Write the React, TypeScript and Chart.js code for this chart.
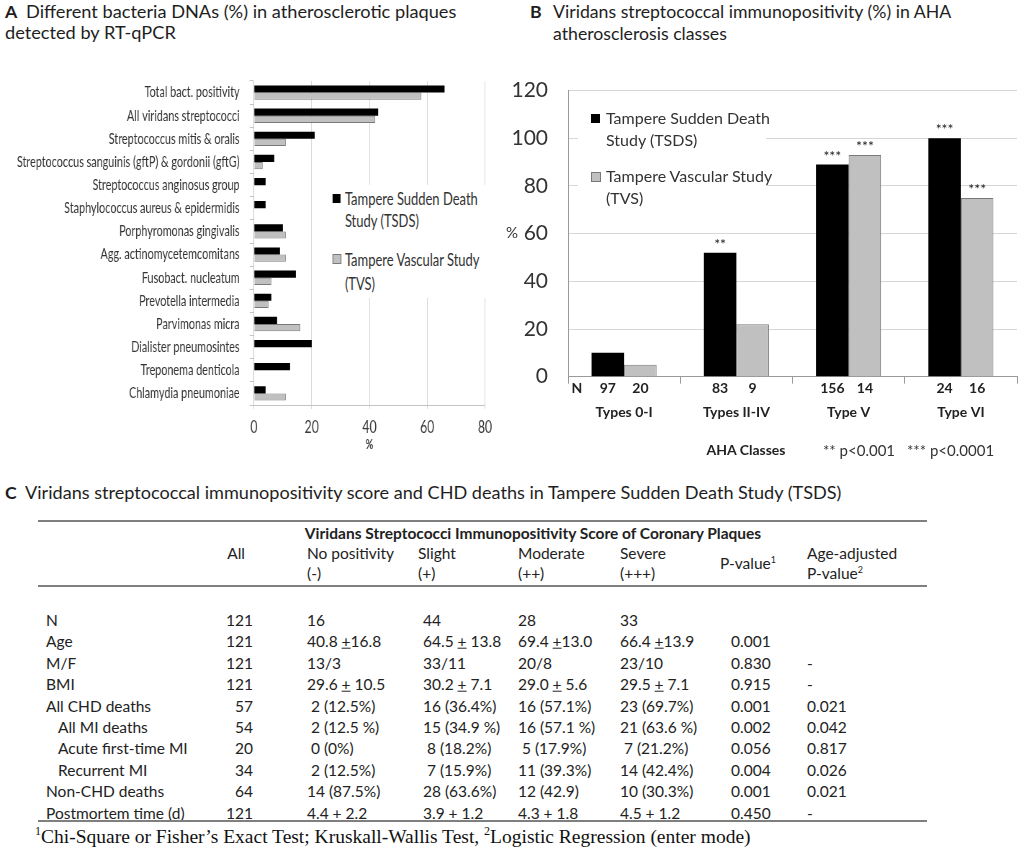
import React, { useEffect, useRef } from 'react';
import { Chart, registerables } from 'chart.js';
Chart.register(...registerables);

const FONT = 'Lato, "Open Sans", sans-serif';

// ---------- Panel A data ----------
const bacteriaLabels = [
  'Total bact. positivity',
  'All viridans streptococci',
  'Streptococcus mitis & oralis',
  'Streptococcus sanguinis (gftP) & gordonii (gftG)',
  'Streptococcus anginosus group',
  'Staphylococcus aureus & epidermidis',
  'Porphyromonas gingivalis',
  'Agg. actinomycetemcomitans',
  'Fusobact. nucleatum',
  'Prevotella intermedia',
  'Parvimonas micra',
  'Dialister pneumosintes',
  'Treponema denticola',
  'Chlamydia pneumoniae',
];
const tsdsDna = [66, 43, 21, 7, 4, 4, 10, 9, 14.5, 6, 8, 20, 12.5, 4];
const tvsDna = [58, 42, 11, 3, 0, 0, 11, 11, 6, 5, 16, 0, 0, 11];
const dnaMax = 80;
const dnaStep = 20;

// ---------- Panel B data ----------
const ahaClasses = ['Types 0-I', 'Types II-IV', 'Type V', 'Type VI'];
const tsdsImmuno = [10, 52, 89, 100];
const tvsImmuno = [5, 22, 93, 75];
const tsdsN = [97, 83, 156, 24];
const tvsN = [20, 9, 14, 16];
const tsdsStars = ['', '**', '***', '***'];
const tvsStars = ['', '', '***', '***'];
const immunoMax = 120;
const immunoStep = 20;

const seriesNames = ['Tampere Sudden Death Study (TSDS)', 'Tampere Vascular Study (TVS)'];

// ---------- Panel C data ----------
const rowLabels = ['N', 'Age', 'M/F', 'BMI', 'All CHD deaths', 'All MI deaths', 'Acute first-time MI', 'Recurrent MI', 'Non-CHD deaths', 'Postmortem time (d)'];
const indentedRows = ['All MI deaths', 'Acute first-time MI', 'Recurrent MI'];
const colAll = ['121', '121', '121', '121', '57', '54', '20', '34', '64', '121'];
const colNone = ['16', '40.8 ±16.8', '13/3', '29.6 ± 10.5', '2 (12.5%)', '2 (12.5 %)', '0 (0%)', '2 (12.5%)', '14 (87.5%)', '4.4 + 2.2'];
const colSlight = ['44', '64.5 ± 13.8', '33/11', '30.2 ± 7.1', '16 (36.4%)', '15 (34.9 %)', '8 (18.2%)', '7 (15.9%)', '28 (63.6%)', '3.9 + 1.2'];
const colModerate = ['28', '69.4 ±13.0', '20/8', '29.0 ± 5.6', '16 (57.1%)', '16 (57.1 %)', '5 (17.9%)', '11 (39.3%)', '12 (42.9)', '4.3 + 1.8'];
const colSevere = ['33', '66.4 ±13.9', '23/10', '29.5 ± 7.1', '23 (69.7%)', '21 (63.6 %)', '7 (21.2%)', '14 (42.4%)', '10 (30.3%)', '4.5 + 1.2'];
const colP = ['', '0.001', '0.830', '0.915', '0.001', '0.002', '0.056', '0.004', '0.001', '0.450'];
const colAdj = ['', '', '-', '-', '0.021', '0.042', '0.817', '0.026', '0.021', '-'];

// ---------- helpers ----------
type TP = { x: number; y: number; align?: 'left' | 'center' | 'right'; style?: React.CSSProperties; children: React.ReactNode };
function T({ x, y, align = 'left', style, children }: TP) {
  const tx = align === 'left' ? '0' : align === 'center' ? '-50%' : '-100%';
  return (
    <div style={{ position: 'absolute', left: x, top: y, transform: `translate(${tx}, -50%)`, whiteSpace: 'nowrap', lineHeight: 1.2, ...style }}>
      {children}
    </div>
  );
}
function pm(s: string) {
  const parts = s.split('±');
  const out: React.ReactNode[] = [];
  parts.forEach((p, i) => {
    if (i > 0) out.push(<span key={'u' + i} style={{ textDecoration: 'underline' }}>+</span>);
    out.push(p);
  });
  return out;
}

// ---------- Panel A ----------
const SX = 0.72;
const A_W = 500 / SX;
const A_TOP = 58;
const A_H = 395;

function ChartA() {
  const ref = useRef<HTMLCanvasElement>(null);
  useEffect(() => {
    const chart = new Chart(ref.current!, {
      type: 'bar',
      data: {
        labels: bacteriaLabels,
        datasets: [
          { label: seriesNames[0], data: tsdsDna, backgroundColor: '#000', borderWidth: 0 },
          {
            label: seriesNames[1], data: tvsDna, backgroundColor: '#c0c0c0', borderColor: '#7a7a7a',
            borderWidth: (c: any) => (c.raw ? 1 : 0),
          },
        ],
      },
      options: {
        animation: false,
        responsive: true,
        maintainAspectRatio: false,
        indexAxis: 'y',
        layout: { padding: { left: 0, right: A_W - 485 / SX, top: 10, bottom: 0 } },
        plugins: { legend: { display: false }, tooltip: { enabled: false } },
        datasets: { bar: { categoryPercentage: 0.62, barPercentage: 1 } },
        scales: {
          y: {
            afterFit: (s: any) => { s.width = 254 / SX; },
            grid: { drawOnChartArea: false, tickLength: 6, color: '#c4c4c4', offset: true },
            border: { color: '#c4c4c4' },
            ticks: { font: { family: FONT, size: 15 }, color: '#333', padding: 14, autoSkip: false },
          },
          x: {
            min: 0, max: dnaMax,
            afterFit: (s: any) => { s.height = 48; },
            ticks: { stepSize: dnaStep, font: { family: FONT, size: 17 }, color: '#3a3a3a', padding: 8 },
            grid: { color: '#d6d6d6', tickLength: 4 },
            border: { color: '#c4c4c4' },
            title: { display: true, text: '%', font: { family: FONT, size: 13, weight: 'bold' }, color: '#3a3a3a', padding: 0 },
          },
        },
      } as any,
    });
    return () => chart.destroy();
  }, []);
  const o = A_TOP; // legend coordinates are page y minus wrapper top
  return (
    <div style={{ position: 'absolute', left: 0, top: A_TOP, width: A_W, height: A_H, transform: `scaleX(${SX})`, transformOrigin: '0 0' }}>
      <canvas ref={ref} />
      <div style={{ position: 'absolute', left: 458, top: 185 - o, width: 222, height: 113, background: '#fff' }} />
      <div style={{ position: 'absolute', left: 462, top: 194 - o, width: 11, height: 9, background: '#000' }} />
      <div style={{ position: 'absolute', left: 479, top: 187 - o, fontFamily: FONT, fontSize: 18, lineHeight: '22px', color: '#333', whiteSpace: 'nowrap' }}>
        Tampere Sudden Death<br />Study (TSDS)
      </div>
      <div style={{ position: 'absolute', left: 462, top: 254 - o, width: 10, height: 8, background: '#c0c0c0', border: '1px solid #7a7a7a' }} />
      <div style={{ position: 'absolute', left: 479, top: 247 - o, fontFamily: FONT, fontSize: 18, lineHeight: '24px', color: '#333', whiteSpace: 'nowrap' }}>
        Tampere Vascular Study<br />(TVS)
      </div>
    </div>
  );
}

// ---------- Panel B ----------
const B_LEFT = 500;
const B_TOP = 58;
const B_W = 524;
const B_H = 412;

function ChartB() {
  const ref = useRef<HTMLCanvasElement>(null);
  useEffect(() => {
    const annot = {
      id: 'annotB',
      afterDatasetsDraw(chart: any) {
        const ctx = chart.ctx;
        const xs = chart.scales.x;
        const ys = chart.scales.y;
        ctx.save();
        const nY = xs.top + 12;
        ctx.fillStyle = '#222';
        ctx.textAlign = 'center';
        ctx.textBaseline = 'middle';
        ctx.font = `bold 14px ${FONT}`;
        ctx.fillText('N', chart.chartArea.left + 9, nY);
        const groups: [number[], string[]][] = [[tsdsN, tsdsStars], [tvsN, tvsStars]];
        groups.forEach(([ns, stars], di) => {
          const meta = chart.getDatasetMeta(di);
          meta.data.forEach((el: any, i: number) => {
            ctx.font = `bold 14px ${FONT}`;
            ctx.textBaseline = 'middle';
            ctx.fillText(String(ns[i]), el.x, nY);
            if (stars[i]) {
              ctx.font = `14px ${FONT}`;
              ctx.textBaseline = 'alphabetic';
              ctx.fillText(stars[i], el.x, el.y - 4);
            }
          });
        });
        ctx.font = `15px ${FONT}`;
        ctx.textAlign = 'left';
        ctx.textBaseline = 'middle';
        ctx.fillStyle = '#333';
        ctx.fillText('%', 6, ys.getPixelForValue(60));
        ctx.restore();
      },
    };
    const chart = new Chart(ref.current!, {
      type: 'bar',
      data: {
        labels: ahaClasses,
        datasets: [
          { label: seriesNames[0], data: tsdsImmuno, backgroundColor: '#000', borderWidth: 0 },
          { label: seriesNames[1], data: tvsImmuno, backgroundColor: '#c0c0c0', borderColor: '#7a7a7a', borderWidth: 1 },
        ],
      },
      options: {
        animation: false,
        responsive: true,
        maintainAspectRatio: false,
        layout: { padding: { left: 0, right: 7, top: 10, bottom: 0 } },
        plugins: { legend: { display: false }, tooltip: { enabled: false } },
        datasets: { bar: { categoryPercentage: 0.58, barPercentage: 1 } },
        scales: {
          x: {
            afterFit: (s: any) => { s.height = B_TOP + B_H - 376.7; },
            grid: { drawOnChartArea: false, tickLength: 7, color: '#9a9a9a', offset: true },
            border: { color: '#9a9a9a' },
            ticks: { font: { family: FONT, size: 14, weight: 'bold' }, color: '#222', padding: 20 },
          },
          y: {
            min: 0, max: immunoMax,
            afterFit: (s: any) => { s.width = 568 - B_LEFT; },
            ticks: { stepSize: immunoStep, font: { family: FONT, size: 21 }, color: '#333', padding: 20 },
            grid: { color: '#d6d6d6', drawTicks: false, tickLength: 0 },
            border: { color: '#9a9a9a' },
          },
        },
      } as any,
      plugins: [annot],
    });
    return () => chart.destroy();
  }, []);
  return (
    <div style={{ position: 'absolute', left: B_LEFT, top: B_TOP, width: B_W, height: B_H }}>
      <canvas ref={ref} />
    </div>
  );
}

function LegendB() {
  const txt: React.CSSProperties = { position: 'absolute', left: 606, fontFamily: FONT, fontSize: 16, lineHeight: '22px', color: '#333', whiteSpace: 'nowrap' };
  return (
    <>
      <div style={{ position: 'absolute', left: 578, top: 100, width: 188, height: 112, background: '#fff' }} />
      <div style={{ position: 'absolute', left: 591, top: 114, width: 9, height: 9, background: '#000' }} />
      <div style={{ ...txt, top: 107 }}>Tampere Sudden Death<br />Study (TSDS)</div>
      <div style={{ position: 'absolute', left: 591, top: 172, width: 8, height: 8, background: '#c0c0c0', border: '1px solid #7a7a7a' }} />
      <div style={{ ...txt, top: 165 }}>Tampere Vascular Study<br />(TVS)</div>
    </>
  );
}

// ---------- Panel C ----------
const colX = { none: 307, slight: 423, moderate: 518, severe: 620, p: 731, adj: 807 };
const rowY0 = 620;
const rowStep = 21.4;

function Cell({ x, y, s }: { x: number; y: number; s: string }) {
  const pad = /^\d \(/.test(s) ? 4 : 0;
  return <T x={x + pad} y={y}>{pm(s)}</T>;
}

function TableC() {
  const rule = (top: number) => (
    <div style={{ position: 'absolute', left: 38, width: 889, top, height: 2, background: '#7f7f7f' }} />
  );
  return (
    <div style={{ fontFamily: FONT, fontSize: 15.5, color: '#222' }}>
      {rule(520)}
      <T x={533} y={533} align="center" style={{ fontWeight: 'bold' }}>Viridans Streptococci Immunopositivity Score of Coronary Plaques</T>
      <T x={245} y={553} align="right">All</T>
      <T x={307} y={553}>No positivity</T>
      <T x={307} y={573}>(-)</T>
      <T x={418} y={553}>Slight</T>
      <T x={418} y={573}>(+)</T>
      <T x={518} y={553}>Moderate</T>
      <T x={518} y={573}>(++)</T>
      <T x={620} y={553}>Severe</T>
      <T x={620} y={573}>(+++)</T>
      <T x={720} y={563}>P-value<sup style={{ fontSize: 9 }}>1</sup></T>
      <T x={807} y={553}>Age-adjusted</T>
      <T x={807} y={573}>P-value<sup style={{ fontSize: 9 }}>2</sup></T>
      {rule(585)}
      {rowLabels.map((lab, i) => {
        const y = rowY0 + i * rowStep;
        return (
          <React.Fragment key={lab}>
            <T x={indentedRows.includes(lab) ? 58 : 46} y={y}>{lab}</T>
            <T x={253} y={y} align="right">{colAll[i]}</T>
            <Cell x={colX.none} y={y} s={colNone[i]} />
            <Cell x={colX.slight} y={y} s={colSlight[i]} />
            <Cell x={colX.moderate} y={y} s={colModerate[i]} />
            <Cell x={colX.severe} y={y} s={colSevere[i]} />
            <Cell x={colX.p} y={y} s={colP[i]} />
            <Cell x={colX.adj} y={y} s={colAdj[i]} />
          </React.Fragment>
        );
      })}
      {rule(820)}
      <T x={35} y={836} style={{ fontFamily: '"Liberation Serif", "Times New Roman", serif', fontSize: 19.5, color: '#111' }}>
        <sup style={{ fontSize: 12 }}>1</sup>Chi-Square or Fisher’s Exact Test; Kruskall-Wallis Test, <sup style={{ fontSize: 12 }}>2</sup>Logistic Regression (enter mode)
      </T>
    </div>
  );
}

export default function App() {
  const tA: React.CSSProperties = { fontFamily: FONT, fontSize: 18.2, color: '#1e1e1e' };
  const tB: React.CSSProperties = { fontFamily: FONT, fontSize: 17.7, color: '#1e1e1e' };
  const tC: React.CSSProperties = { fontFamily: FONT, fontSize: 18.1, color: '#1e1e1e' };
  const bold: React.CSSProperties = { ...tB, fontWeight: 'bold' };
  return (
    <div style={{ position: 'absolute', left: 0, top: 0, width: 1024, height: 849, overflow: 'hidden', background: '#fff' }}>
      <T x={5} y={12} style={bold}>A</T>
      <T x={26} y={12} style={tA}>Different bacteria DNAs (%) in atherosclerotic plaques</T>
      <T x={5} y={33} style={tA}>detected by RT-qPCR</T>
      <T x={530} y={12} style={bold}>B</T>
      <T x={553} y={12} style={tB}>Viridans streptococcal immunopositivity (%) in AHA</T>
      <T x={553} y={34} style={tB}>atherosclerosis classes</T>
      <ChartA />
      <ChartB />
      <LegendB />
      <T x={746} y={450} align="center" style={{ fontFamily: FONT, fontSize: 14, fontWeight: 'bold', color: '#222' }}>AHA Classes</T>
      <T x={823} y={450} style={{ fontFamily: FONT, fontSize: 15, color: '#333' }}>** p&lt;0.001</T>
      <T x={907} y={450} style={{ fontFamily: FONT, fontSize: 15, color: '#333' }}>*** p&lt;0.0001</T>
      <T x={5} y={493} style={bold}>C</T>
      <T x={25} y={493} style={tC}>Viridans streptococcal immunopositivity score and CHD deaths in Tampere Sudden Death Study (TSDS)</T>
      <TableC />
    </div>
  );
}
